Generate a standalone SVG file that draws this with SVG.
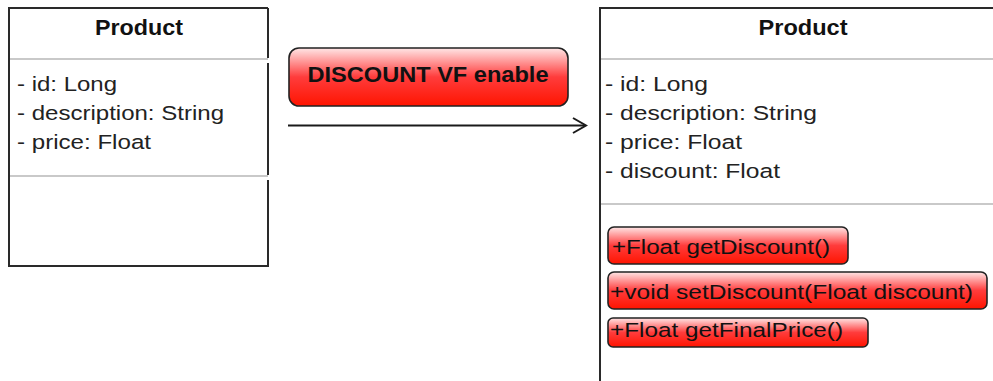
<svg xmlns="http://www.w3.org/2000/svg" width="993" height="381" viewBox="0 0 993 381">
  <style>
    .edge { fill: none; stroke: #2a2a2a; stroke-width: 2; }
    .sep { stroke: #c9c9c9; stroke-width: 2; }
    .title { font-family: "Liberation Sans", Arial, sans-serif; font-weight: bold; font-size: 22px; fill: #111; }
    .attr { font-family: "Liberation Sans", Arial, sans-serif; font-size: 20.5px; fill: #222; }
    .btn { fill: url(#redGrad); stroke: #222; stroke-width: 1.6; }
    .btnText { font-family: "Liberation Sans", Arial, sans-serif; font-size: 20.5px; fill: #111; }
    .toggleText { font-family: "Liberation Sans", Arial, sans-serif; font-weight: bold; font-size: 22px; fill: #111; }
    .link { fill: none; stroke: #1a1a1a; stroke-width: 2; }
  </style>
  <defs>
    <linearGradient id="redGrad" x1="0" y1="0" x2="0" y2="1">
      <stop offset="0" stop-color="#ffe6e6"/>
      <stop offset="0.5" stop-color="#ff3c3c"/>
      <stop offset="1" stop-color="#ff1400"/>
    </linearGradient>
  </defs>

  <rect width="993" height="381" fill="#ffffff"/>

  <!-- class before the feature: Product -->
  <g id="product-before">
    <rect x="9" y="8" width="259" height="258" fill="#ffffff"/>
    <path class="edge" d="M268 8 H9 V266 H268 V180 M268 175 V63 M268 58 V8"/>
    <line class="sep" x1="10" y1="59" x2="268" y2="59"/>
    <line class="sep" x1="10" y1="176" x2="268" y2="176"/>
    <text class="title" x="139" y="35" text-anchor="middle" textLength="88" lengthAdjust="spacingAndGlyphs">Product</text>
    <text class="attr" x="17" y="91" textLength="100" lengthAdjust="spacingAndGlyphs">- id: Long</text>
    <text class="attr" x="17" y="120" textLength="207" lengthAdjust="spacingAndGlyphs">- description: String</text>
    <text class="attr" x="17" y="149" textLength="134" lengthAdjust="spacingAndGlyphs">- price: Float</text>
  </g>

  <!-- feature toggle -->
  <g id="toggle-discount">
    <rect class="btn" x="289" y="48" width="279" height="58" rx="10" ry="10"/>
    <text class="toggleText" x="428" y="82" text-anchor="middle" textLength="241" lengthAdjust="spacingAndGlyphs">DISCOUNT VF enable</text>
  </g>

  <!-- class with the feature enabled: Product -->
  <g id="product-after">
    <path class="edge" d="M993 8 H600 V381"/>
    <line class="sep" x1="601" y1="59" x2="993" y2="59"/>
    <line class="sep" x1="601" y1="204" x2="993" y2="204"/>
    <text class="title" x="803" y="35" text-anchor="middle" textLength="89" lengthAdjust="spacingAndGlyphs">Product</text>
    <text class="attr" x="605" y="91" textLength="103" lengthAdjust="spacingAndGlyphs">- id: Long</text>
    <text class="attr" x="605" y="120" textLength="212" lengthAdjust="spacingAndGlyphs">- description: String</text>
    <text class="attr" x="605" y="149" textLength="137" lengthAdjust="spacingAndGlyphs">- price: Float</text>
    <text class="attr" x="605" y="178" textLength="175" lengthAdjust="spacingAndGlyphs">- discount: Float</text>

    <g id="method-getDiscount">
      <rect class="btn" x="608" y="227" width="240" height="37" rx="6" ry="6"/>
      <text class="btnText" x="612" y="254" textLength="218" lengthAdjust="spacingAndGlyphs">+Float getDiscount()</text>
    </g>
    <g id="method-setDiscount">
      <rect class="btn" x="608" y="272" width="379" height="37" rx="6" ry="6"/>
      <text class="btnText" x="610" y="299" textLength="363" lengthAdjust="spacingAndGlyphs">+void setDiscount(Float discount)</text>
    </g>
    <g id="method-getFinalPrice">
      <rect class="btn" x="608" y="318" width="260" height="29" rx="5" ry="5"/>
      <text class="btnText" x="610" y="337" textLength="233" lengthAdjust="spacingAndGlyphs">+Float getFinalPrice()</text>
    </g>
  </g>

  <!-- connectors -->
  <g id="connectors">
    <line class="link" x1="288" y1="125.5" x2="585" y2="125.5"/>
    <path class="link" d="M573 118 L586 125.5 L573 133" stroke-width="2.8" stroke-linejoin="miter"/>
  </g>
</svg>
